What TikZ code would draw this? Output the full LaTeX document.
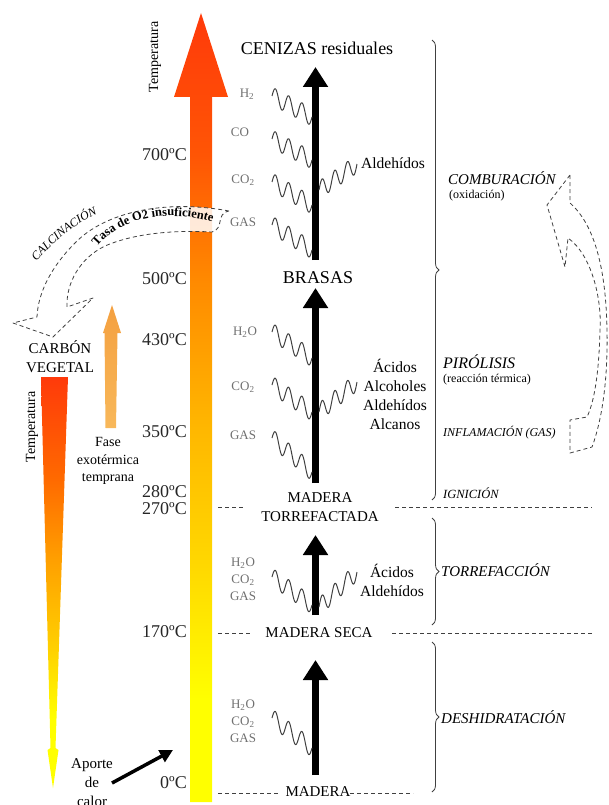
\documentclass[tikz,border=0pt]{standalone}
\usepackage{fontspec}
\setmainfont{Liberation Serif}
\usetikzlibrary{arrows.meta,calc,decorations.pathreplacing,decorations.text}
\definecolor{cR}{HTML}{FF3A0A}
\definecolor{cR1}{HTML}{FF5505}
\definecolor{cO}{HTML}{FF8A00}
\definecolor{cB}{HTML}{FFB800}
\definecolor{cD}{HTML}{FFD800}
\definecolor{cY}{HTML}{FFFF00}
\definecolor{lR}{HTML}{FF3A0A}
\definecolor{lO}{HTML}{FF6A00}
\definecolor{lB}{HTML}{FFA000}
\definecolor{lD}{HTML}{FFD000}
\definecolor{gasgray}{HTML}{707070}
\definecolor{wavegray}{HTML}{404040}
\definecolor{linegray}{HTML}{404040}
\definecolor{orangearrow}{HTML}{F4A040}
\definecolor{orangearrowb}{HTML}{F8B85A}
\pgfdeclareverticalshading{mainshade}{100bp}{color(0bp)=(cY); color(25bp)=(cY); color(31.5bp)=(cY); color(40bp)=(cD); color(48.5bp)=(cB); color(58bp)=(cO); color(66bp)=(cR1); color(75bp)=(cR); color(100bp)=(cR)}
\pgfdeclareverticalshading{leftshade}{100bp}{color(0bp)=(cY); color(25bp)=(cY); color(33.5bp)=(cY); color(42bp)=(lD); color(52.7bp)=(lB); color(62.5bp)=(lO); color(75bp)=(lR); color(100bp)=(lR)}
\tikzset{
  temp/.style={font=\fontsize{18}{20}\selectfont, anchor=east, inner sep=0pt, text=black!85},
  bigstate/.style={font=\fontsize{18}{20}\selectfont, inner sep=0pt},
  stage/.style={font=\fontsize{15}{19}\selectfont, inner sep=0pt, align=center},
  gas/.style={font=\fontsize{13}{17}\selectfont, text=gasgray, inner sep=0pt, align=center},
  prod/.style={font=\fontsize{15.5}{19}\selectfont, inner sep=0pt, align=center},
  proc/.style={font=\itshape\fontsize{15}{17}\selectfont, anchor=west, inner sep=0pt},
  procsmall/.style={font=\fontsize{12}{14}\selectfont, anchor=west, inner sep=0pt},
  wave/.style={draw=wavegray, line width=1pt, line join=round,
    to path={let \p1=(\tikztostart), \p2=(\tikztotarget) in
      plot[smooth, samples=61, domain=0:1, variable=\t]
      ({\x1+(\x2-\x1)*\t}, {\y1+(\y2-\y1)*\t+9*sin(1080*\t)})}},
  blackarrow/.style={draw=black, line width=7pt, -{Triangle[width=24pt,length=20pt]}},
  dline/.style={draw=linegray, line width=0.8pt, dash pattern=on 4pt off 3pt},
  bracestyle/.style={draw=linegray, line width=0.8pt, decorate, decoration={brace, amplitude=7pt}},
  dashcurve/.style={draw=linegray, line width=0.8pt, dash pattern=on 4pt off 3pt, line join=round}
}
\begin{document}
\begin{tikzpicture}[x=1pt,y=-1pt]
\useasboundingbox (0,0) rectangle (608,805);

% main temperature arrow
\path[shading=mainshade] (190,802) -- (190,97) -- (174,97) -- (201,13) -- (228,97) -- (212,97) -- (212,802) -- cycle;
% left red down arrow
\path[shading=leftshade] (41,377) -- (68,377) -- (55.5,748) -- (58.5,750) -- (53,788) -- (47.5,750) -- (50.5,748) -- cycle;
% orange up arrow
\path[top color=orangearrow, bottom color=orangearrowb] (112,305) -- (121,333) -- (117.5,333) -- (116,428) -- (105.5,428) -- (104.5,333) -- (103,333) -- cycle;

% temperature labels
\node[temp] (t700) at (187,155) {700ºC};
\node[temp] (t500) at (187,279) {500ºC};
\node[temp] (t430) at (187,340) {430ºC};
\node[temp] (t350) at (187,432) {350ºC};
\node[temp] (t280) at (187,492) {280ºC};
\node[temp] (t270) at (187,509) {270ºC};
\node[temp] (t170) at (187,632) {170ºC};
\node[temp] (t0) at (187,783) {0ºC};
\node[rotate=90, font=\fontsize{14}{16}\selectfont, inner sep=0pt] (tempTop) at (155,57) {Temperatura};
\node[rotate=90, font=\fontsize{14}{16}\selectfont, inner sep=0pt] (tempLeft) at (32,427) {Temperatura};

% left side texts
\node[stage] (carbon) at (60,357) {CARBÓN\\VEGETAL};
\node[font=\fontsize{14}{17.5}\selectfont, align=center, inner sep=0pt] (fase) at (108,461) {Fase\\exotérmica\\temprana};
\node[stage] (aporte) at (92,783) {Aporte\\de\\calor};
\coordinate (heatEnd) at (173,750);
\coordinate (heatStart) at (112,783);
\draw[line width=3.5pt, -{Triangle[width=13pt,length=13pt]}] (heatStart) -- (heatEnd);

% state labels
\node[bigstate] (cenizas) at (317,48) {CENIZAS residuales};
\node[bigstate] (brasas) at (318,278) {BRASAS};
\node[stage] (torref) at (320,507.5) {MADERA\\TORREFACTADA};
\node[stage] (seca) at (319,633) {MADERA SECA};
\node[stage] (madera) at (318,792) {MADERA};

% dashed separator lines
\draw[dline] (218,507) -- (243,507);
\draw[dline] (395,507) -- (592,507);
\draw[dline] (218,633) -- (251,633);
\draw[dline] (392,633) -- (592,633);
\draw[dline] (218,793) -- (278,793);
\draw[dline] (350,793) -- (413,793);

% black process arrows
\coordinate (a1s) at (315.5,260); \coordinate (a1e) at (315.5,67);
\coordinate (a2s) at (315.5,483); \coordinate (a2e) at (315.5,288);
\coordinate (a3s) at (315.5,615); \coordinate (a3e) at (315.5,535);
\coordinate (a4s) at (315.5,775); \coordinate (a4e) at (315.5,660);
\draw[blackarrow] (a1s) -- (a1e);
\draw[blackarrow] (a2s) -- (a2e);
\draw[blackarrow] (a3s) -- (a3e);
\draw[blackarrow] (a4s) -- (a4e);

% gas labels section 1
\node[gas] (h2a) at (247,94) {H\textsubscript{2}};
\node[gas] (coa) at (240,132) {CO};
\node[gas] (co2a) at (243,180) {CO\textsubscript{2}};
\node[gas] (gasa) at (243,222) {GAS};
\coordinate (w1s) at (272,96);  \coordinate (w1e) at (312,117);
\coordinate (w2s) at (272,139); \coordinate (w2e) at (312,160);
\coordinate (w3s) at (272,182); \coordinate (w3e) at (312,205);
\coordinate (w4s) at (272,225); \coordinate (w4e) at (312,250);
\coordinate (w5s) at (319,190); \coordinate (w5e) at (357,164);
\draw[wave] (w1s) to (w1e);
\draw[wave] (w2s) to (w2e);
\draw[wave] (w3s) to (w3e);
\draw[wave] (w4s) to (w4e);
\draw[wave] (w5s) to (w5e);
\node[prod, anchor=west] (ald1) at (361,163) {Aldehídos};

% section 2
\node[gas] (h2ob) at (245,332) {H\textsubscript{2}O};
\node[gas] (co2b) at (243,387) {CO\textsubscript{2}};
\node[gas] (gasb) at (243,435) {GAS};
\coordinate (v1s) at (272,332); \coordinate (v1e) at (312,358);
\coordinate (v2s) at (272,385); \coordinate (v2e) at (312,412);
\coordinate (v3s) at (272,438); \coordinate (v3e) at (312,472);
\coordinate (v4s) at (319,412); \coordinate (v4e) at (357,382);
\draw[wave] (v1s) to (v1e);
\draw[wave] (v2s) to (v2e);
\draw[wave] (v3s) to (v3e);
\draw[wave] (v4s) to (v4e);
\node[prod] (prod2) at (395,394.5) {Ácidos\\Alcoholes\\Aldehídos\\Alcanos};

% section 3
\node[gas] (gasc) at (243,579) {H\textsubscript{2}O\\CO\textsubscript{2}\\GAS};
\coordinate (u1s) at (272,577); \coordinate (u1e) at (312,605);
\coordinate (u2s) at (319,607); \coordinate (u2e) at (357,572);
\draw[wave] (u1s) to (u1e);
\draw[wave] (u2s) to (u2e);
\node[prod] (prod3) at (392,580) {Ácidos\\Aldehídos};

% section 4
\node[gas] (gasd) at (243,721) {H\textsubscript{2}O\\CO\textsubscript{2}\\GAS};
\coordinate (s1s) at (272,718); \coordinate (s1e) at (312,748);
\draw[wave] (s1s) to (s1e);

% braces
\draw[bracestyle] (432,40) -- (432,500);
\draw[bracestyle] (432,518) -- (432,625);
\draw[bracestyle] (432,642) -- (432,792);

% process labels
\node[proc] (comb) at (448,178) {COMBURACIÓN};
\node[procsmall] (oxid) at (449,196) {(oxidación)};
\node[proc, font=\itshape\fontsize{16}{18}\selectfont] (piro) at (443,362) {PIRÓLISIS};
\node[procsmall] (reac) at (443,380) {(reacción térmica)};
\node[proc, font=\itshape\fontsize{12}{14}\selectfont] (infl) at (443,433) {INFLAMACIÓN (GAS)};
\node[proc, font=\itshape\fontsize{12.5}{14}\selectfont] (igni) at (443,493) {IGNICIÓN};
\node[proc] (torr) at (441,570) {TORREFACCIÓN};
\node[proc] (desh) at (441,717) {DESHIDRATACIÓN};

% right dashed curved arrow
\draw[dashcurve] (570,175) -- (547,205) -- (565,267) -- (568,238)
  .. controls (592,255) and (602,300) .. (600,330)
  .. controls (599,370) and (595,400) .. (587,417)
  -- (570,420) -- (570,453) -- (592,447)
  .. controls (602,420) and (608,380) .. (607,330)
  .. controls (606,270) and (595,225) .. (570,203) -- cycle;

% left dashed curved arrow (calcination)
\draw[dashcurve, fill=white, fill opacity=0.85] (229,211)
  .. controls (165,199) and (105,212) .. (75,243)
  .. controls (52,266) and (38,292) .. (37,317)
  -- (13,323) -- (53,337) -- (93,298) -- (67,307)
  .. controls (66,283) and (80,258) .. (105,246)
  .. controls (135,233) and (175,230) .. (212,232)
  .. controls (225,228) and (215,214) .. cycle;
\path[decorate, decoration={text along path, text align=center,
  text={|\bfseries\fontsize{12.5}{12}\selectfont|Tasa de O2 insuficiente}}]
  (93,252) .. controls (113,222) and (160,205) .. (219,224);
\path[decorate, decoration={text along path, text align=center,
  text={|\itshape\fontsize{12}{12}\selectfont|CALCINACIÓN}}]
  (31,268) .. controls (50,245) and (75,222) .. (105,211);
\end{tikzpicture}
\end{document}
